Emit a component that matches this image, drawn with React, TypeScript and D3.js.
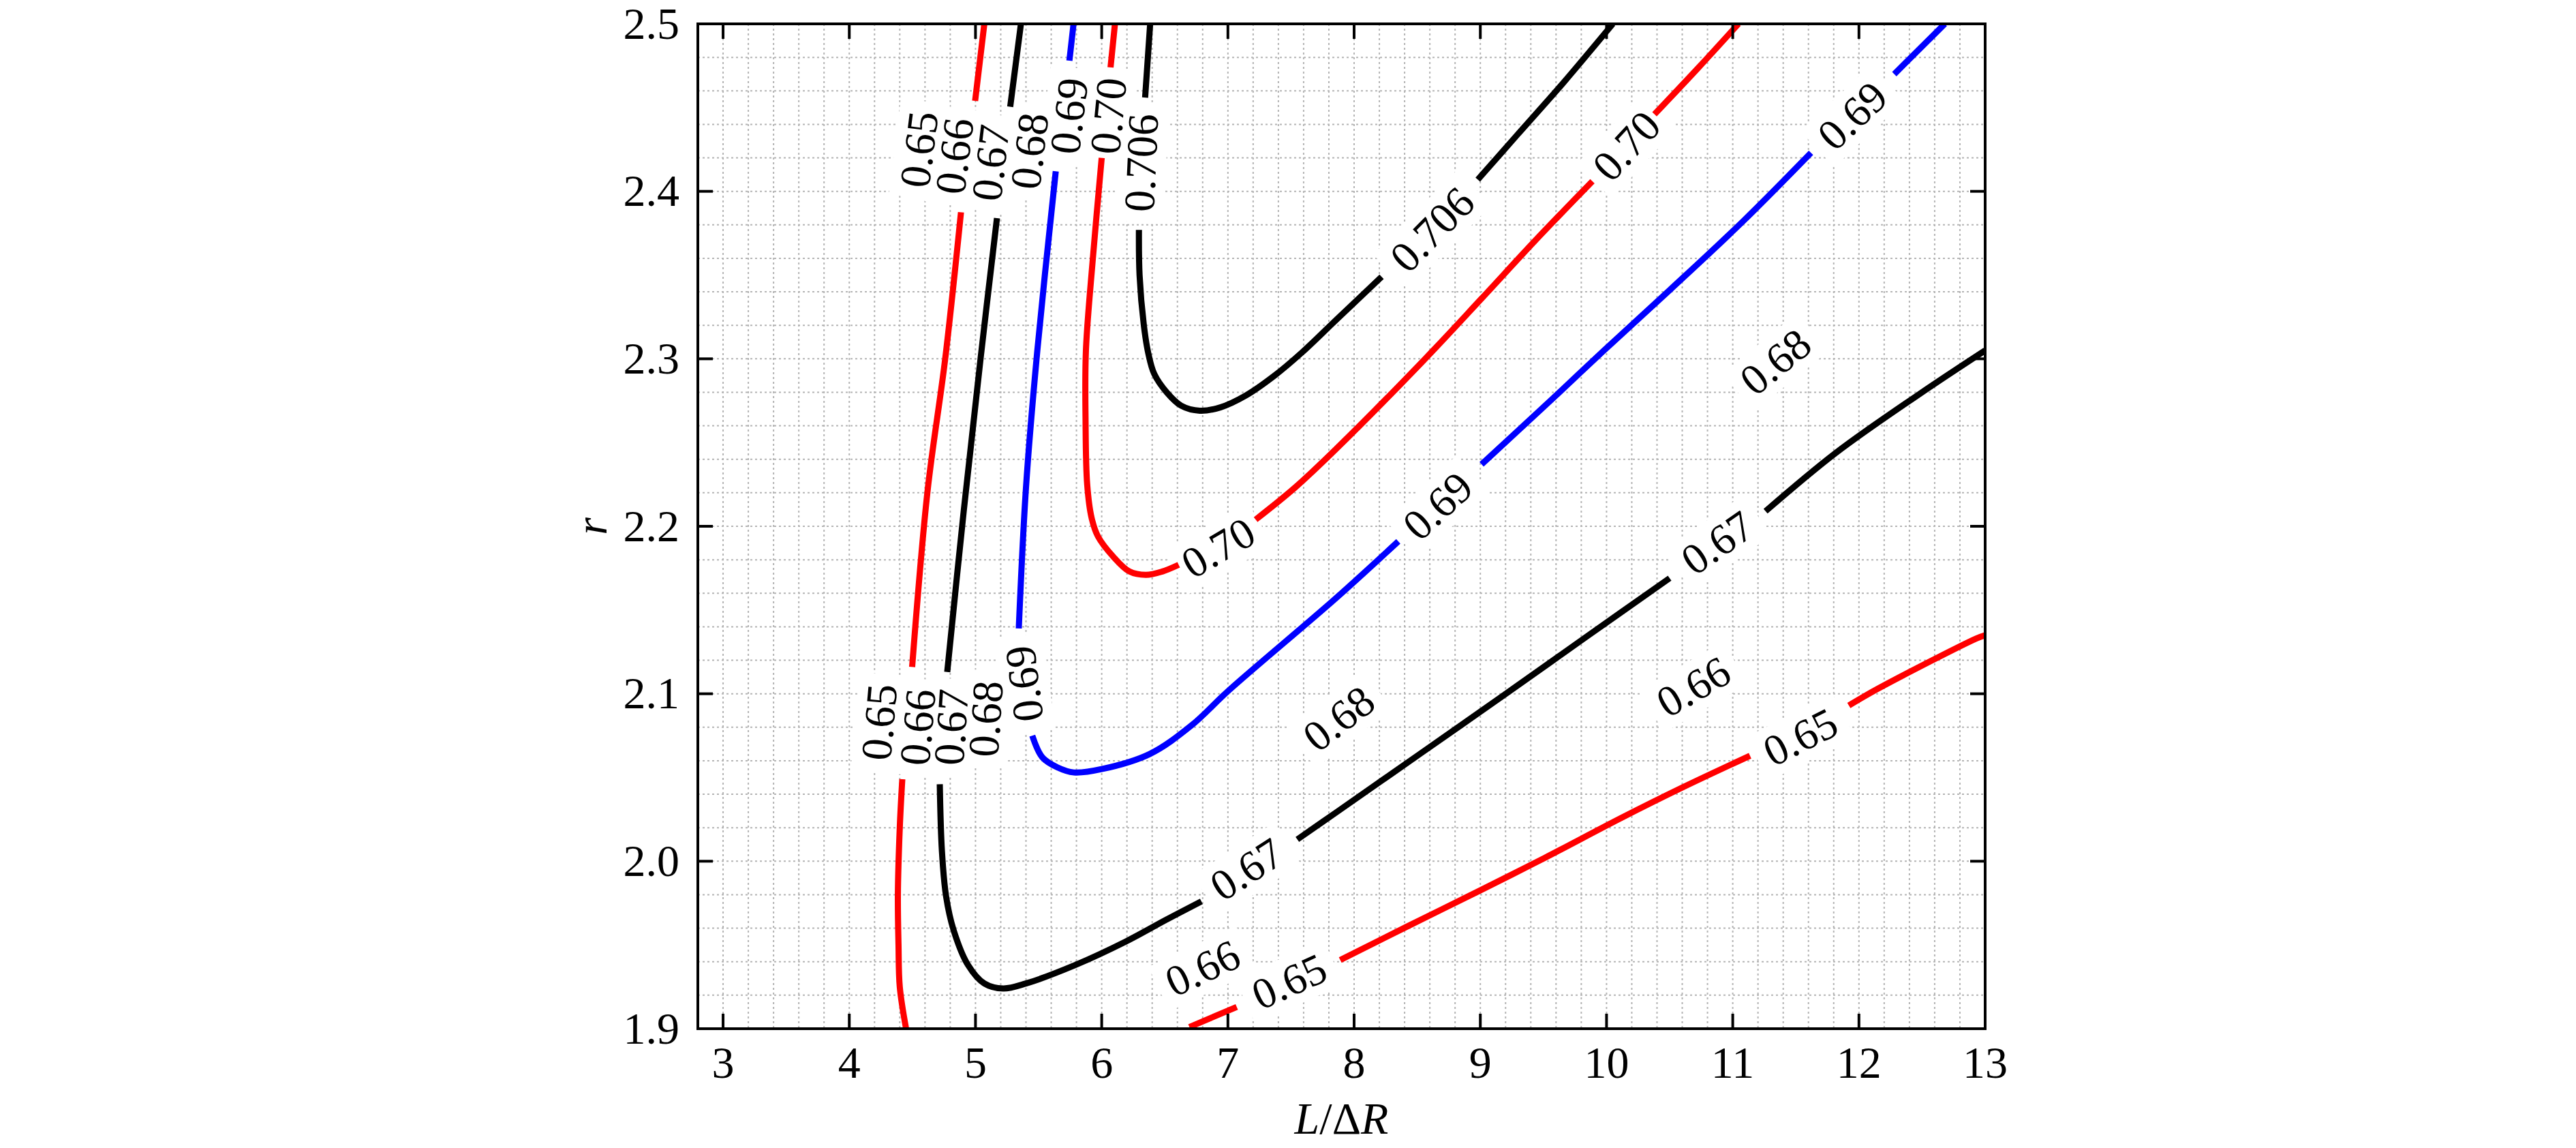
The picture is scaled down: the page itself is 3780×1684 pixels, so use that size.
import React from 'react';
import * as d3 from 'd3';

type Pt = [number, number] | null;

// axes
const xTicks = [3, 4, 5, 6, 7, 8, 9, 10, 11, 12, 13];
const rTicks = [1.9, 2.0, 2.1, 2.2, 2.3, 2.4, 2.5];
const xDomain: [number, number] = [2.8, 13];
const rDomain: [number, number] = [1.9, 2.5];

// contour lines, [L/dR, r]; null = gap left for a label
const c065Left: Pt[] = [
  [5.07, 2.5], [4.997, 2.454], null,
  [4.885, 2.3875], [4.76, 2.3], [4.62, 2.221], [4.498, 2.116], null,
  [4.42, 2.049], [4.4, 2.02], [4.385, 1.98], [4.39, 1.95], [4.4, 1.925], [4.45, 1.9],
];
const c065Right: Pt[] = [
  [6.695, 1.901], [7.07, 1.913], null,
  [7.89, 1.941], [8.42, 1.961], [9.01, 1.983], [9.51, 2.002], [10.12, 2.026], [10.6, 2.044], [11.137, 2.063], null,
  [11.92, 2.093], [12.15, 2.103], [12.93, 2.133], [13.0, 2.135],
];
const c067: Pt[] = [
  [5.36, 2.5], [5.275, 2.4505], null,
  [5.17, 2.384], [5.04, 2.3], [4.908, 2.21], [4.776, 2.113], null,
  [4.717, 2.046], [4.734, 2.006], [4.767, 1.979], [4.826, 1.959], [4.941, 1.938], [5.07, 1.927],
  [5.22, 1.924], [5.4, 1.927], [5.79, 1.938], [6.19, 1.952], [6.51, 1.965], [6.79, 1.976], null,
  [7.55, 2.013], [7.855, 2.029], [8.52, 2.064], [9.24, 2.102], [9.84, 2.134], [10.5, 2.169], null,
  [11.26, 2.209], [11.82, 2.244], [12.48, 2.279], [13.0, 2.305],
];
const c069: Pt[] = [
  [5.777, 2.5], [5.744, 2.478], null,
  [5.636, 2.412], [5.49, 2.305], [5.4, 2.223], [5.343, 2.139], null,
  [5.45, 2.075], [5.53, 2.062], [5.65, 2.056], [5.78, 2.053], [6.0, 2.055], [6.38, 2.064],
  [6.71, 2.081], [7.007, 2.102], [7.855, 2.157], [8.35, 2.191], null,
  [9.01, 2.237], [9.57, 2.276], [9.98, 2.305], [10.5, 2.341], [11.08, 2.382], [11.62, 2.423], null,
  [12.28, 2.47], [12.68, 2.5],
];
const c070: Pt[] = [
  [6.105, 2.5], [6.07, 2.474], null,
  [6.0, 2.42], [5.93, 2.36], [5.875, 2.305], [5.872, 2.264], [5.885, 2.225], [5.92, 2.205],
  [5.97, 2.194], [6.09, 2.182], [6.22, 2.173], [6.35, 2.171], [6.48, 2.173], [6.61, 2.177], null,
  [7.22, 2.204], [7.53, 2.223], [7.855, 2.246], [8.55, 2.299], [9.01, 2.336], [9.44, 2.371], [9.888, 2.406], null,
  [10.38, 2.446], [10.73, 2.474], [11.045, 2.5],
];
const c0706: Pt[] = [
  [6.384, 2.5], [6.344, 2.456], null,
  [6.295, 2.377], [6.3, 2.35], [6.334, 2.32], [6.37, 2.303], [6.416, 2.291], [6.515, 2.28],
  [6.63, 2.272], [6.777, 2.269], [6.94, 2.271], [7.14, 2.278], [7.37, 2.29], [7.59, 2.304],
  [7.855, 2.323], [8.218, 2.349], null,
  [8.98, 2.407], [9.296, 2.434], [9.66, 2.465], [10.05, 2.5],
];

// inline labels: text, L/dR, r, contour(s) the label is aligned with
const contourLabels: [string, number, number, string[]][] = [
  ['0.65', 4.555, 2.425, ['c065L']],
  ['0.66', 4.836, 2.421, ['c065L']],
  ['0.67', 5.122, 2.417, ['c067']],
  ['0.68', 5.43, 2.424, ['c067']],
  ['0.69', 5.743, 2.445, ['c069']],
  ['0.70', 6.056, 2.445, ['c070']],
  ['0.706', 6.316, 2.417, ['c0706']],
  ['0.65', 4.24, 2.083, ['c065L']],
  ['0.66', 4.545, 2.08, ['c065L']],
  ['0.67', 4.81, 2.08, ['c067']],
  ['0.68', 5.084, 2.085, ['c067']],
  ['0.69', 5.388, 2.106, ['c069']],
  ['0.70', 6.925, 2.187, ['c070']],
  ['0.706', 8.62, 2.377, ['c0706']],
  ['0.70', 10.16, 2.427, ['c070']],
  ['0.69', 11.95, 2.445, ['c069']],
  ['0.69', 8.664, 2.212, ['c069']],
  ['0.68', 11.34, 2.298, ['c067', 'c069']],
  ['0.67', 10.88, 2.19, ['c067']],
  ['0.66', 10.69, 2.104, ['c065R', 'c067']],
  ['0.65', 11.537, 2.074, ['c065R']],
  ['0.68', 7.88, 2.085, ['c067', 'c069']],
  ['0.67', 7.15, 1.995, ['c067']],
  ['0.66', 6.8, 1.936, ['c065R', 'c067']],
  ['0.65', 7.487, 1.928, ['c065R']],
];

const contours = [
  { key: 'c065L', points: c065Left, color: '#ff0000' },
  { key: 'c065R', points: c065Right, color: '#ff0000' },
  { key: 'c067', points: c067, color: '#000000' },
  { key: 'c069', points: c069, color: '#0000ff' },
  { key: 'c070', points: c070, color: '#ff0000' },
  { key: 'c0706', points: c0706, color: '#000000' },
];

const W = 3780;
const H = 1684;
const margin = { left: 1024, top: 35, right: 867, bottom: 175 };
const FONT = '"Liberation Serif", "Times New Roman", serif';
const fs = 64;

export default function App() {
  const innerW = W - margin.left - margin.right;
  const innerH = H - margin.top - margin.bottom;

  const x = d3.scaleLinear().domain(xDomain).range([0, innerW]);
  const y = d3.scaleLinear().domain(rDomain).range([innerH, 0]);

  const line = d3
    .line<Pt>()
    .defined((d) => d !== null)
    .x((d) => x((d as [number, number])[0]))
    .y((d) => y((d as [number, number])[1]))
    .curve(d3.curveCatmullRom.alpha(0.5));

  const gridX = d3.range(0, 52).map((i) => 2.8 + i * 0.2).filter((v) => v <= 13.0001);
  const gridY = d3.range(0, 31).map((i) => 1.9 + i * 0.02);

  // rough text width for Times digits
  const textW = (s: string) =>
    s.split('').reduce((a, c) => a + (c === '.' ? 0.25 : 0.5), 0) * fs;

  // label rotation: direction of the nearest chord of the guide contour, reading upward
  const byKey = new Map(contours.map((c) => [c.key, c.points]));
  const chordAngle = (key: string, px: number, py: number) => {
    const pts = (byKey.get(key) || [])
      .filter((p): p is [number, number] => p !== null)
      .map((p) => [x(p[0]), y(p[1])]);
    let best = Infinity;
    let ang = 0;
    for (let i = 0; i < pts.length - 1; i++) {
      const [ax, ay] = pts[i];
      const [bx, by] = pts[i + 1];
      const dx = bx - ax;
      const dy = by - ay;
      const len2 = dx * dx + dy * dy || 1;
      const t = Math.max(0, Math.min(1, ((px - ax) * dx + (py - ay) * dy) / len2));
      const dist = Math.hypot(px - (ax + t * dx), py - (ay + t * dy));
      if (dist < best) {
        best = dist;
        let a = (Math.atan2(dy, dx) * 180) / Math.PI;
        if (a > 0) a -= 180;
        ang = a;
      }
    }
    return ang;
  };
  const labelAngle = (guides: string[], px: number, py: number) =>
    d3.mean(guides, (g) => chordAngle(g, px, py)) || 0;

  const labels = contourLabels.map(([t, lx, lr, guides]) => {
    const px = x(lx);
    const py = y(lr);
    return { t, px, py, a: labelAngle(guides, px, py) };
  });

  const tickLen = 22;

  return (
    <svg
      width={W}
      height={H}
      style={{ position: 'fixed', left: 0, top: 0, background: '#fff' }}
      fontFamily={FONT}
    >
      <rect width={W} height={H} fill="#fff" />
      <g transform={`translate(${margin.left},${margin.top})`}>
        <defs>
          <clipPath id="plotClip">
            <rect width={innerW} height={innerH} />
          </clipPath>
        </defs>

        {/* dotted grid */}
        <g stroke="#b4b4b4" strokeWidth={2} strokeDasharray="3 4">
          {gridX.map((v, i) => (
            <line key={`gx${i}`} x1={x(v)} x2={x(v)} y1={0} y2={innerH} />
          ))}
          {gridY.map((v, i) => (
            <line key={`gy${i}`} x1={0} x2={innerW} y1={y(v)} y2={y(v)} />
          ))}
        </g>

        {/* label backgrounds */}
        <g clipPath="url(#plotClip)">
          {labels.map((l, i) => {
            const w = textW(l.t) + 30;
            const h = fs * 0.66 + 30;
            return (
              <rect
                key={`lb${i}`}
                x={-w / 2}
                y={-h / 2}
                width={w}
                height={h}
                fill="#fff"
                transform={`translate(${l.px},${l.py}) rotate(${l.a})`}
              />
            );
          })}
        </g>

        {/* contour lines */}
        <g clipPath="url(#plotClip)" fill="none" strokeWidth={9} strokeLinejoin="round">
          {contours.map((c) => (
            <path key={c.key} d={line(c.points) || ''} stroke={c.color} />
          ))}
        </g>

        {/* label text */}
        <g fontSize={fs} fill="#000">
          {labels.map((l, i) => (
            <text
              key={`lt${i}`}
              textAnchor="middle"
              dy="0.33em"
              transform={`translate(${l.px},${l.py}) rotate(${l.a})`}
            >
              {l.t}
            </text>
          ))}
        </g>

        {/* frame */}
        <rect width={innerW} height={innerH} fill="none" stroke="#000" strokeWidth={4} />

        {/* ticks, inward on all four sides */}
        <g stroke="#000" strokeWidth={4}>
          {xTicks.map((v) => (
            <g key={`xt${v}`}>
              <line x1={x(v)} x2={x(v)} y1={innerH} y2={innerH - tickLen} />
              <line x1={x(v)} x2={x(v)} y1={0} y2={tickLen} />
            </g>
          ))}
          {rTicks.map((v) => (
            <g key={`yt${v}`}>
              <line x1={0} x2={tickLen} y1={y(v)} y2={y(v)} />
              <line x1={innerW} x2={innerW - tickLen} y1={y(v)} y2={y(v)} />
            </g>
          ))}
        </g>

        {/* tick labels */}
        <g fontSize={66} fill="#000">
          {xTicks.map((v) => (
            <text key={`xl${v}`} x={x(v)} y={innerH + 72} textAnchor="middle">
              {v}
            </text>
          ))}
          {rTicks.map((v) => (
            <text key={`yl${v}`} x={-27} y={y(v)} dy="0.33em" textAnchor="end">
              {v.toFixed(1)}
            </text>
          ))}
        </g>

        {/* axis titles */}
        <text
          x={innerW / 2}
          y={innerH + 154}
          textAnchor="middle"
          fontSize={66}
        >
          <tspan fontStyle="italic">L</tspan>
          <tspan>/Δ</tspan>
          <tspan fontStyle="italic">R</tspan>
        </text>
        <text
          transform={`translate(${873 - margin.left},${innerH / 2}) rotate(-90)`}
          textAnchor="middle"
          dy="0.25em"
          fontSize={66}
          fontStyle="italic"
        >
          r
        </text>
      </g>
    </svg>
  );
}
